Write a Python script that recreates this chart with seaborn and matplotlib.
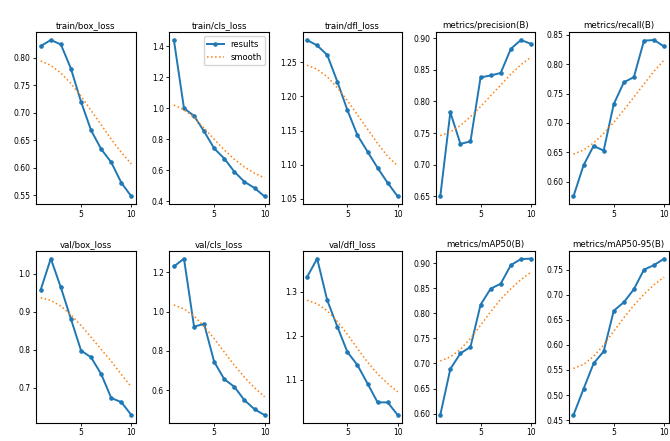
import matplotlib
matplotlib.use("Agg")
import matplotlib.pyplot as plt
import seaborn as sns
import numpy as np
import pandas as pd
from matplotlib.ticker import MultipleLocator

epochs = list(range(1, 11))

titles = ["train/box_loss", "train/cls_loss", "train/dfl_loss", "metrics/precision(B)", "metrics/recall(B)",
          "val/box_loss", "val/cls_loss", "val/dfl_loss", "metrics/mAP50(B)", "metrics/mAP50-95(B)"]

train_box = [0.821, 0.832, 0.824, 0.780, 0.720, 0.668, 0.634, 0.610, 0.573, 0.548]
train_box_s = [0.794, 0.786, 0.772, 0.753, 0.730, 0.704, 0.678, 0.652, 0.628, 0.607]
train_cls = [1.44, 1.00, 0.95, 0.85, 0.74, 0.675, 0.59, 0.525, 0.485, 0.43]
train_cls_s = [1.02, 0.99, 0.94, 0.87, 0.80, 0.73, 0.67, 0.62, 0.58, 0.55]
train_dfl = [1.283, 1.275, 1.261, 1.222, 1.180, 1.143, 1.119, 1.095, 1.073, 1.053]
train_dfl_s = [1.246, 1.240, 1.229, 1.213, 1.194, 1.173, 1.152, 1.131, 1.112, 1.098]
precision = [0.650, 0.783, 0.733, 0.737, 0.838, 0.841, 0.845, 0.883, 0.897, 0.891]
precision_s = [0.746, 0.752, 0.762, 0.776, 0.792, 0.809, 0.826, 0.843, 0.858, 0.870]
recall = [0.575, 0.628, 0.661, 0.653, 0.732, 0.769, 0.778, 0.840, 0.841, 0.830]
recall_s = [0.647, 0.654, 0.666, 0.682, 0.701, 0.722, 0.744, 0.766, 0.788, 0.807]
val_box = [0.958, 1.040, 0.964, 0.881, 0.798, 0.780, 0.736, 0.673, 0.662, 0.628]
val_box_s = [0.937, 0.930, 0.915, 0.892, 0.864, 0.833, 0.801, 0.770, 0.735, 0.702]
val_cls = [1.23, 1.27, 0.924, 0.937, 0.744, 0.656, 0.617, 0.549, 0.503, 0.473]
val_cls_s = [1.034, 1.014, 0.977, 0.925, 0.862, 0.794, 0.727, 0.666, 0.612, 0.566]
val_dfl = [1.334, 1.376, 1.281, 1.221, 1.163, 1.133, 1.091, 1.048, 1.048, 1.019]
val_dfl_s = [1.281, 1.273, 1.257, 1.233, 1.203, 1.171, 1.140, 1.113, 1.091, 1.072]
map50 = [0.597, 0.689, 0.720, 0.733, 0.817, 0.849, 0.859, 0.896, 0.908, 0.909]
map50_s = [0.705, 0.713, 0.728, 0.750, 0.776, 0.803, 0.828, 0.849, 0.867, 0.882]
map5095 = [0.460, 0.512, 0.563, 0.587, 0.668, 0.685, 0.711, 0.750, 0.759, 0.772]
map5095_s = [0.553, 0.561, 0.577, 0.600, 0.627, 0.654, 0.679, 0.701, 0.720, 0.735]

results = [train_box, train_cls, train_dfl, precision, recall, val_box, val_cls, val_dfl, map50, map5095]
smooths = [train_box_s, train_cls_s, train_dfl_s, precision_s, recall_s, val_box_s, val_cls_s, val_dfl_s, map50_s, map5095_s]
ysteps = [0.05, 0.2, 0.05, 0.05, 0.05, 0.1, 0.2, 0.1, 0.05, 0.05]

plt.rcParams['font.family'] = ['DejaVu Sans']
fig = plt.figure(figsize=(6.7, 4.41), dpi=100)
gs = fig.add_gridspec(2, 5, left=0.054, right=0.998, top=0.927, bottom=0.041, wspace=0.335, hspace=0.27)

for i in range(10):
    ax = fig.add_subplot(gs[i // 5, i % 5])
    df = pd.DataFrame({"epoch": epochs, "results": results[i], "smooth": smooths[i]})
    sns.lineplot(data=df, x="epoch", y="results", ax=ax, marker=".", markersize=5,
                 linewidth=1.4, color="#1f77b4", label="results", markeredgecolor="#1f77b4")
    sns.lineplot(data=df, x="epoch", y="smooth", ax=ax, linestyle=":", linewidth=1.1,
                 color="#ff7f0e", label="smooth")
    ax.set_title(titles[i], fontsize=6.2, pad=3)
    ax.set_xlabel("")
    ax.set_ylabel("")
    ax.set_xticks([5, 10])
    ax.yaxis.set_major_locator(MultipleLocator(ysteps[i]))
    ax.tick_params(labelsize=5.5, length=2.5, width=0.6, pad=1.5)
    for s in ax.spines.values():
        s.set_linewidth(0.8)
    if i == 1:
        ax.legend(loc="upper right", fontsize=6, frameon=True, handlelength=2.0, borderpad=0.4)
    else:
        ax.get_legend().remove()

fig.savefig("out.png", dpi=100)
